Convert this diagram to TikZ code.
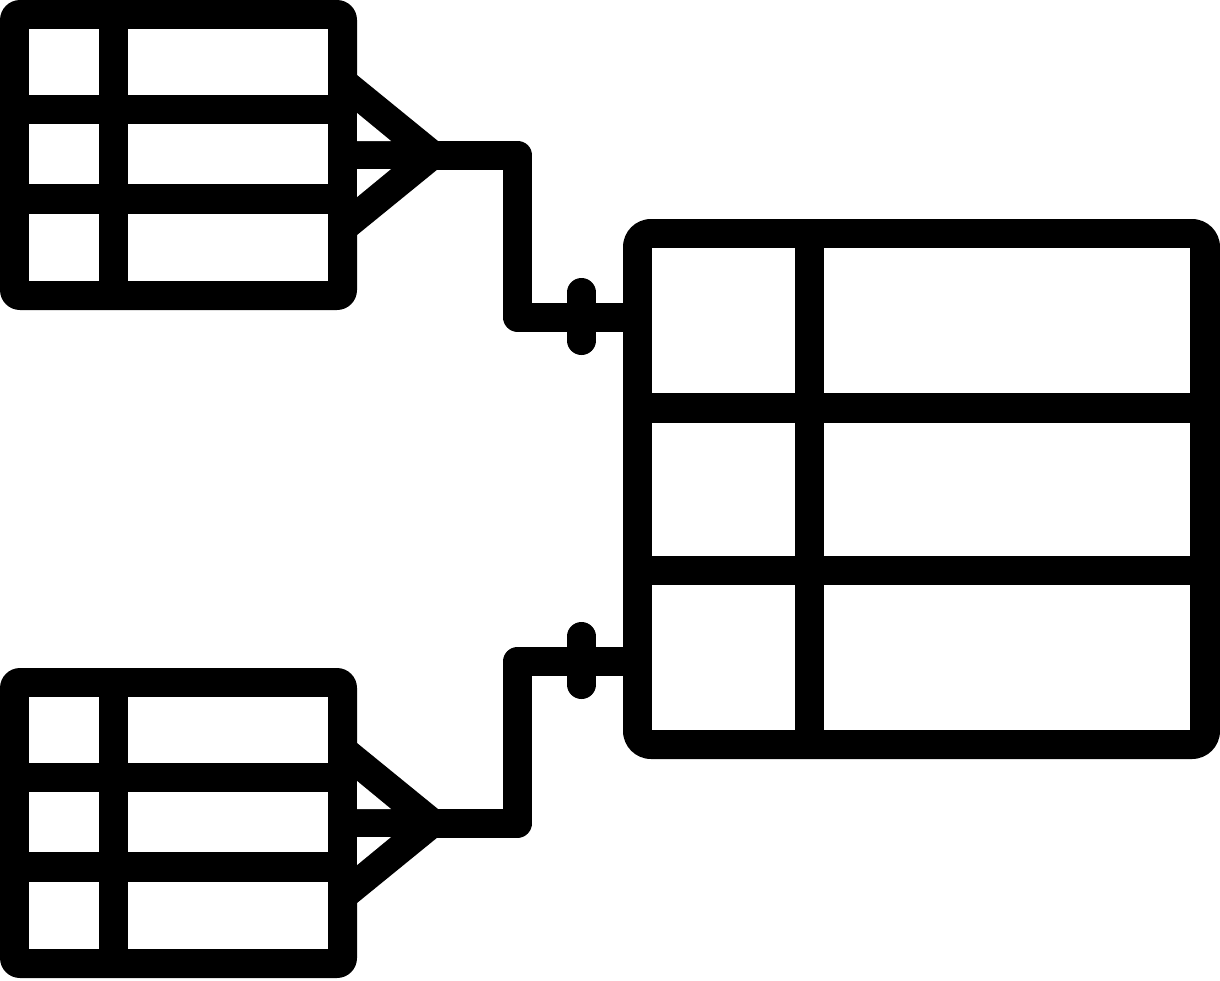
\documentclass[tikz,border=0pt]{standalone}
\begin{document}
\begin{tikzpicture}[x=1pt,y=-1pt,
  frame/.style={fill=black,rounded corners=20pt},
  cell/.style={fill=white},
  band/.style={draw=black,line width=29pt},
  link/.style={band,line join=round},
  tick/.style={band,line cap=round}]
\useasboundingbox (0,0) rectangle (1220,980);
% small tables with crow's feet
\foreach \dy/\nm in {0/top,668/bot}{
  \begin{scope}[yshift=-\dy pt]
    \fill[frame] (0,0) rectangle (357,310);
    \foreach \ya/\yb in {29/95,124/184,214/281}{
      \fill[cell] (29,\ya) rectangle (99,\yb);
      \fill[cell] (128,\ya) rectangle (328,\yb);
    }
    \fill[black] (345,75) -- (357,75) -- (438,141) -- (450,141) -- (450,169)
      -- (438,169) -- (357,235) -- (345,235) -- cycle;
    \fill[cell] (357,113) -- (391,141) -- (357,141) -- cycle;
    \fill[cell] (357,169) -- (391,169) -- (357,197) -- cycle;
  \end{scope}
}
% big table
\fill[fill=black,rounded corners=28pt] (623,219) rectangle (1220,759);
\foreach \ya/\yb in {248/393,423/556,585/730}{
  \fill[cell] (652,\ya) rectangle (795,\yb);
  \fill[cell] (824,\ya) rectangle (1190,\yb);
}
% connectors
\coordinate (tA) at (430,155);
\coordinate (tB) at (517.5,155);
\coordinate (tC) at (517.5,317);
\coordinate (tD) at (635,317);
\draw[link] (tA) -- (tB) -- (tC) -- (tD);
\coordinate (bA) at (430,823);
\coordinate (bB) at (517.5,823);
\coordinate (bC) at (517.5,661.5);
\coordinate (bD) at (635,661.5);
\draw[link] (bA) -- (bB) -- (bC) -- (bD);
\coordinate (t1) at (581.5,292.5);
\coordinate (t2) at (581.5,340.5);
\draw[tick] (t1) -- (t2);
\coordinate (b1) at (581.5,636.5);
\coordinate (b2) at (581.5,684.5);
\draw[tick] (b1) -- (b2);
\end{tikzpicture}
\end{document}
